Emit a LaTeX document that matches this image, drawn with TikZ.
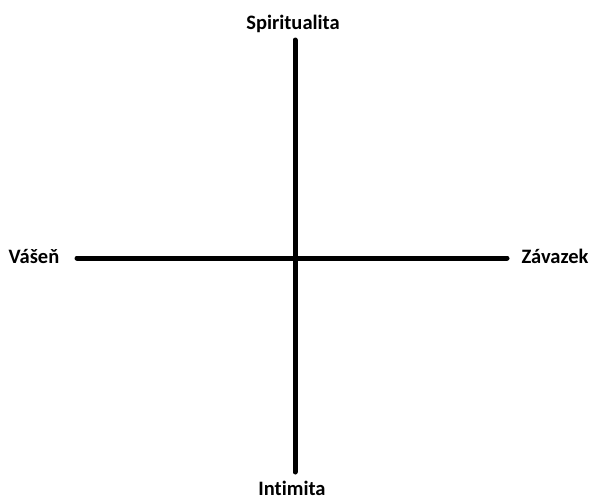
\documentclass[tikz,border=0pt]{standalone}
\usepackage{fontspec}
\setmainfont[Ligatures=NoCommon]{Carlito}
\usetikzlibrary{positioning}
\tikzset{axis/.style = {line width=5pt, line cap=round}}
\tikzset{lbl/.style = {font=\fontsize{20.5}{22}\selectfont\bfseries, inner sep=0}}

\begin{document}
\begin{tikzpicture}[x=1pt, y=-1pt]
      \useasboundingbox (0,0) rectangle (592,499);
      \coordinate (top) at (295,40);
      \coordinate (bottom) at (295,472);
      \coordinate (left) at (77,258);
      \coordinate (right) at (507,258);
      \draw[axis] (top) -- (bottom);
      \draw[axis] (left) -- (right);
      \node[lbl] (spirit) at (293,24) {Spiritualita};
      \node[lbl] (intim) at (292,488) {Intimita};
      \node[lbl] (vasen) at (34,256) {Vášeň};
      \node[lbl] (zavaz) at (555,256) {Závazek};
    \end{tikzpicture}
\end{document}
